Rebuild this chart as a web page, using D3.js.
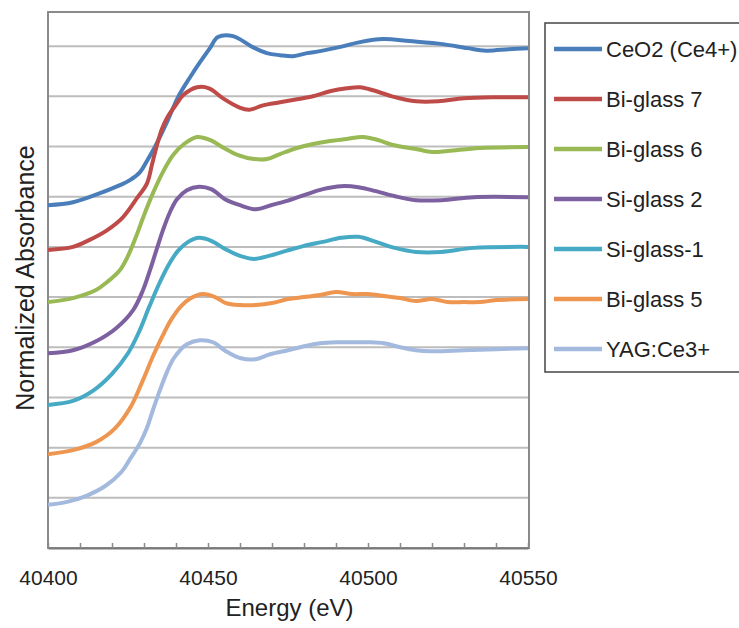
<!DOCTYPE html>
<html>
<head>
<meta charset="utf-8">
<script src="https://cdn.jsdelivr.net/npm/d3@7"></script>
<style>
  html, body { margin: 0; padding: 0; background: #fff; }
  svg { display: block; }
  text { font-family: "Liberation Sans", Arial, sans-serif; fill: #222; }
</style>
</head>
<body>
<svg id="chart" width="739" height="628"></svg>
<script>
// Ce L3-edge XANES spectra, normalized and stacked with a unit offset per sample.
const seriesNames = ["CeO2 (Ce4+)", "Bi-glass 7", "Bi-glass 6", "Si-glass 2", "Si-glass-1", "Bi-glass 5", "YAG:Ce3+"];
const seriesColors = ["#4a7ebb", "#be4b48", "#98b954", "#7d60a0", "#46aac5", "#ee9550", "#a3b9dd"];

const xTicks = [40400, 40450, 40500, 40550];
const xMinorTicks = [40410, 40420, 40430, 40440, 40460, 40470, 40480, 40490, 40510, 40520, 40530, 40540];
const yGrid = [1, 2, 3, 4, 5, 6, 7, 8, 9, 10];

// [energy (eV), offset absorbance]
const ceo2 = [
  [40400, 6.83], [40407.8, 6.89], [40416.25, 7.07], [40422.5, 7.23], [40425.6, 7.33],
  [40428.75, 7.49], [40430.9, 7.71], [40433.4, 7.99], [40437.2, 8.49], [40440.6, 8.98],
  [40444.4, 9.38], [40447.5, 9.68], [40450.6, 9.96], [40453.1, 10.18], [40457.8, 10.20],
  [40464, 9.98], [40468.4, 9.86], [40472.5, 9.82], [40476.6, 9.80], [40481, 9.86],
  [40485, 9.90], [40491, 9.98], [40497.5, 10.08], [40504.7, 10.14], [40513, 10.10],
  [40523.4, 10.04], [40531, 9.96], [40537, 9.91], [40544, 9.94], [40550, 9.96]
];
const biGlass7 = [
  [40400, 5.94], [40407.8, 6.00], [40413, 6.14], [40418.4, 6.33], [40423.4, 6.59], [40427.8, 6.97],
  [40430.9, 7.26], [40432.5, 7.64], [40434.1, 8.04], [40435.6, 8.35], [40437.2, 8.57],
  [40440.3, 8.86], [40442.2, 9.02], [40446.6, 9.18], [40450.3, 9.16], [40454.7, 8.96],
  [40459.7, 8.78], [40462.8, 8.73], [40467.2, 8.82], [40472.5, 8.88], [40477.8, 8.94],
  [40482.8, 9.00], [40488.1, 9.10], [40493.4, 9.16], [40497.5, 9.18], [40501.6, 9.12],
  [40507.5, 9.00], [40515, 8.90], [40522, 8.90], [40530, 8.96], [40540, 8.98], [40550, 8.98]
];
const biGlass6 = [
  [40400, 4.90], [40407.8, 4.98], [40415, 5.14], [40418.5, 5.30], [40422.5, 5.54], [40425, 5.82],
  [40427.5, 6.20], [40430, 6.63], [40432.8, 7.07], [40435.9, 7.49], [40439.1, 7.83],
  [40442.5, 8.05], [40446.6, 8.19], [40450.6, 8.13], [40455, 7.97], [40459.4, 7.83],
  [40464.4, 7.75], [40468.4, 7.75], [40472.5, 7.85], [40477.8, 7.97], [40482.8, 8.05],
  [40488.1, 8.11], [40493.4, 8.15], [40498.4, 8.19], [40503.1, 8.13], [40507.8, 8.03],
  [40515, 7.95], [40520, 7.89], [40525, 7.91], [40535, 7.97], [40550, 7.99]
];
const siGlass2 = [
  [40400, 3.88], [40407.8, 3.94], [40415, 4.12], [40421.3, 4.38], [40426.6, 4.74], [40429.7, 5.14],
  [40431.9, 5.54], [40434.1, 5.98], [40435.9, 6.33], [40438.1, 6.69], [40440.3, 6.95],
  [40443.4, 7.13], [40447.2, 7.20], [40451, 7.15], [40455.3, 6.95], [40460, 6.83], [40465, 6.75],
  [40469.7, 6.83], [40474.4, 6.91], [40480, 7.03], [40485.9, 7.15], [40491.6, 7.21],
  [40497, 7.19], [40502.5, 7.11], [40508.4, 7.01], [40515, 6.93], [40523, 6.93],
  [40533, 6.99], [40550, 6.99]
];
const siGlass1 = [
  [40400, 2.85], [40407.8, 2.93], [40414, 3.13], [40420, 3.47], [40425, 3.88], [40428.4, 4.30],
  [40431.6, 4.80], [40434.7, 5.26], [40437.5, 5.62], [40440.6, 5.92], [40443.8, 6.10],
  [40447.2, 6.18], [40451, 6.12], [40455.3, 5.96], [40460, 5.82], [40464.4, 5.76],
  [40469, 5.82], [40474.4, 5.92], [40480, 6.02], [40485.9, 6.10], [40491.6, 6.18],
  [40497, 6.20], [40502.5, 6.10], [40508.4, 5.98], [40515, 5.90], [40523, 5.90],
  [40533, 5.98], [40550, 6.00]
];
const biGlass5 = [
  [40400, 1.87], [40407.8, 1.95], [40415, 2.11], [40421, 2.39], [40426, 2.83], [40429.7, 3.35],
  [40432.8, 3.82], [40435.6, 4.20], [40438.4, 4.54], [40441.6, 4.82], [40444.7, 4.98],
  [40448.4, 5.06], [40452.2, 5.00], [40455.6, 4.88], [40460, 4.84], [40465, 4.84],
  [40470, 4.88], [40475, 4.96], [40480, 5.00], [40485, 5.04], [40490, 5.10], [40495, 5.06],
  [40500, 5.06], [40505, 5.02], [40510, 4.98], [40515, 4.92], [40520, 4.96], [40525, 4.90],
  [40530, 4.90], [40535, 4.90], [40540, 4.94], [40550, 4.96]
];
const yagCe3 = [
  [40400, 0.86], [40406, 0.92], [40412, 1.04], [40418, 1.24], [40423, 1.52], [40425.6, 1.77],
  [40428.75, 2.09], [40430.9, 2.39], [40432.8, 2.75], [40435, 3.15],
  [40437.2, 3.51], [40439.1, 3.76], [40441.25, 3.94], [40443.4, 4.06], [40447.5, 4.14],
  [40451.6, 4.10], [40455.6, 3.92], [40460.3, 3.78], [40464.7, 3.76], [40469.4, 3.86],
  [40475, 3.94], [40480, 4.02], [40485, 4.08], [40490, 4.10], [40495, 4.10], [40500, 4.10],
  [40505, 4.08], [40510, 4.00], [40515, 3.94], [40520, 3.92], [40530, 3.94], [40540, 3.96],
  [40550, 3.98]
];
const seriesValues = [ceo2, biGlass7, biGlass6, siGlass2, siGlass1, biGlass5, yagCe3];

const svg = d3.select("#chart");
const plot = { left: 48, right: 529, top: 12, bottom: 548 };

const x = d3.scaleLinear().domain([40400, 40550]).range([plot.left, plot.right - 1]);
const y = d3.scaleLinear().domain([0, 10.68]).range([plot.bottom, plot.top]);

// horizontal gridlines
svg.append("g").selectAll("line").data(yGrid).join("line")
  .attr("x1", plot.left).attr("x2", plot.right)
  .attr("y1", d => y(d)).attr("y2", d => y(d))
  .attr("stroke", "#bdbdbd").attr("stroke-width", 2);

// plot frame
svg.append("rect")
  .attr("x", plot.left).attr("y", plot.top)
  .attr("width", plot.right - plot.left).attr("height", plot.bottom - plot.top)
  .attr("fill", "none").attr("stroke", "#8a8a8a").attr("stroke-width", 2);

// x axis: inward minor ticks every 10 eV, labels every 50 eV
const xAxis = d3.axisBottom(x).tickValues(xTicks.concat(xMinorTicks)).tickSizeInner(-5).tickSizeOuter(0)
  .tickFormat(d => xTicks.includes(d) ? String(d) : "");
const gx = svg.append("g").attr("transform", `translate(0,${plot.bottom})`).call(xAxis);
gx.select(".domain").attr("stroke", "#7a7a7a").attr("stroke-width", 2);
gx.selectAll(".tick line").attr("stroke", "#8a8a8a").attr("stroke-width", 1.5);
gx.selectAll(".tick text")
  .attr("y", 0).attr("dy", 0)
  .attr("transform", "translate(0,37)")
  .style("font-size", "21px").attr("fill", "#222");

// spectra
const line = d3.line().x(d => x(d[0])).y(d => y(d[1])).curve(d3.curveCatmullRom.alpha(0.5));
svg.append("g").selectAll("path").data(seriesValues).join("path")
  .attr("d", line)
  .attr("fill", "none")
  .attr("stroke", (d, i) => seriesColors[i])
  .attr("stroke-width", 4)
  .attr("stroke-linejoin", "round");

// axis titles
svg.append("text")
  .attr("x", (plot.left + plot.right) / 2 + 1).attr("y", 616)
  .attr("text-anchor", "middle").style("font-size", "24px")
  .text("Energy (eV)");
svg.append("text")
  .attr("transform", `translate(34,${(plot.top + plot.bottom) / 2 - 2}) rotate(-90)`)
  .attr("text-anchor", "middle").style("font-size", "25px")
  .text("Normalized Absorbance");

// legend
const legend = svg.append("g");
legend.append("rect")
  .attr("x", 545).attr("y", 23).attr("width", 200).attr("height", 349)
  .attr("fill", "#fff").attr("stroke", "#444").attr("stroke-width", 1.5);
const item = legend.selectAll("g.item").data(seriesNames).join("g")
  .attr("class", "item")
  .attr("transform", (d, i) => `translate(0,${49 + i * 50})`);
item.append("line")
  .attr("x1", 554).attr("x2", 602).attr("y1", 0).attr("y2", 0)
  .attr("stroke", (d, i) => seriesColors[i]).attr("stroke-width", 4.5);
item.append("text")
  .attr("x", 606).attr("y", 8)
  .style("font-size", "22px")
  .text(d => d);
</script>
</body>
</html>
